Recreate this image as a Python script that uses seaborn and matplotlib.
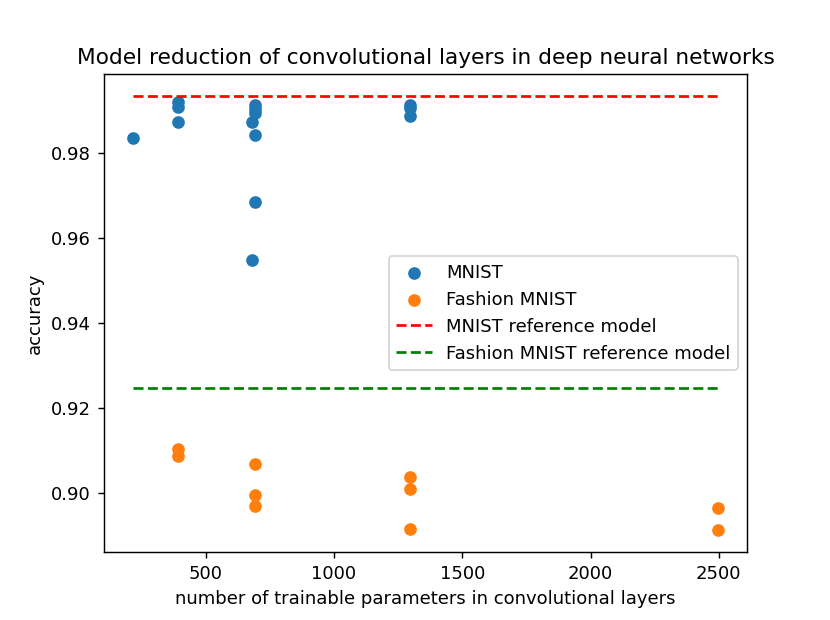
"""Accuracy vs. number of conv-layer parameters for reduced models."""

import pandas as pd
import matplotlib
matplotlib.use("Agg")
import matplotlib.pyplot as plt
import seaborn as sns

# trainable parameters in the conv layers and test accuracy per reduced model
mnist_params = [217, 392, 392, 392, 692, 692, 692, 682, 692, 692, 682, 1296, 1296, 1296]
mnist_acc = [0.9835, 0.9919, 0.9908, 0.9872, 0.9912, 0.9903, 0.9893,
             0.9872, 0.9843, 0.9684, 0.9548, 0.9914, 0.9905, 0.9887]

fashion_params = [392, 392, 692, 692, 692, 1296, 1296, 1296, 2496, 2496]
fashion_acc = [0.9103, 0.9087, 0.9068, 0.8996, 0.8969,
               0.9039, 0.9009, 0.8915, 0.8966, 0.8913]

# accuracy of the full reference models
mnist_ref = 0.9934
fashion_ref = 0.9247

BLUE = "#1f77b4"
ORANGE = "#ff7f0e"


def main():
    mnist = pd.DataFrame({"params": mnist_params, "acc": mnist_acc})
    fashion = pd.DataFrame({"params": fashion_params, "acc": fashion_acc})
    x_lo = min(mnist_params + fashion_params)
    x_hi = max(mnist_params + fashion_params)
    refs = pd.DataFrame({
        "params": [x_lo, x_hi],
        "mnist": [mnist_ref, mnist_ref],
        "fashion": [fashion_ref, fashion_ref],
    })

    fig, ax = plt.subplots(figsize=(6.385, 4.77), dpi=130)
    sns.scatterplot(data=mnist, x="params", y="acc", color=BLUE, s=36,
                    edgecolor=BLUE, linewidth=1.0, label="MNIST", ax=ax)
    sns.scatterplot(data=fashion, x="params", y="acc", color=ORANGE, s=36,
                    edgecolor=ORANGE, linewidth=1.0, label="Fashion MNIST", ax=ax)
    sns.lineplot(data=refs, x="params", y="mnist", color="red", linestyle="--",
                 linewidth=1.5, label="MNIST reference model", ax=ax)
    sns.lineplot(data=refs, x="params", y="fashion", color="green", linestyle="--",
                 linewidth=1.5, label="Fashion MNIST reference model", ax=ax)

    ax.set_xlabel("number of trainable parameters in convolutional layers")
    ax.set_ylabel("accuracy")
    ax.set_title("Model reduction of convolutional layers in deep neural networks")
    ax.set_xticks([500, 1000, 1500, 2000, 2500])
    ax.set_yticks([0.90, 0.92, 0.94, 0.96, 0.98])
    ax.set_yticklabels([f"{v:.2f}" for v in [0.90, 0.92, 0.94, 0.96, 0.98]])
    ax.legend(loc="center right")

    plt.savefig("out.png", dpi=130)
    plt.close()


if __name__ == "__main__":
    main()
